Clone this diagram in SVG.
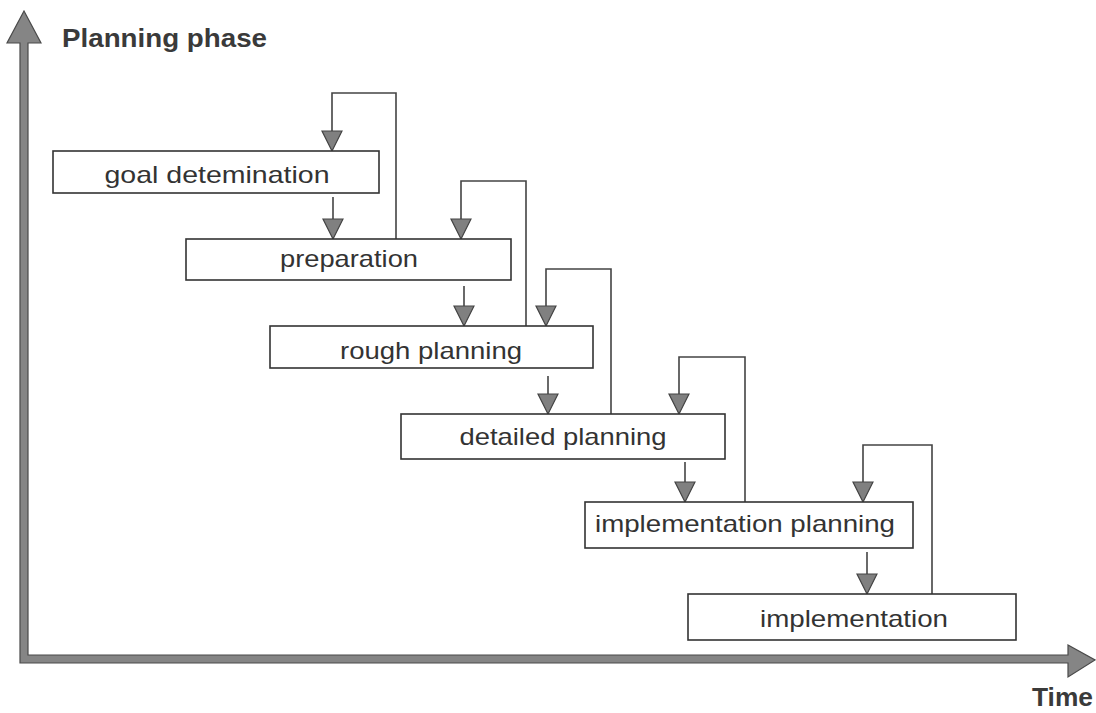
<svg xmlns="http://www.w3.org/2000/svg" width="1096" height="713" viewBox="0 0 1096 713">
<style>
.box{fill:#fff;stroke:#333;stroke-width:1.6}
.lbl{font-family:"Liberation Sans",Arial,sans-serif;font-size:24px;fill:#333;text-anchor:middle}
.ax{font-family:"Liberation Sans",Arial,sans-serif;font-size:25px;font-weight:bold;fill:#3a3a3a}
.axis{fill:#858585;stroke:#4a4a4a;stroke-width:1.2}
.con{fill:none;stroke:#444;stroke-width:1.6}
</style>
<defs>
<marker id="ah" markerUnits="userSpaceOnUse" markerWidth="22" markerHeight="22" viewBox="0 0 22 22" refX="21" refY="11" orient="auto">
<path d="M1,1 L21,11 L1,21 z" fill="#808080" stroke="#444" stroke-width="1.2"/>
</marker>
</defs>
<rect width="1096" height="713" fill="#fff"/>
<g id="axes">
<path class="axis" d="M20,663 V43 H7 L24,11 L41,43 H28 V655 H1068 V645 L1095,660 L1068,677 V663 Z"/>
<text class="ax" x="62" y="47" textLength="205" lengthAdjust="spacingAndGlyphs">Planning phase</text>
<text class="ax" x="1032" y="706" textLength="61" lengthAdjust="spacingAndGlyphs">Time</text>
</g>
<g id="connectors">
<path class="con" d="M333,197 V239" marker-end="url(#ah)"/>
<path class="con" d="M464,286 V326" marker-end="url(#ah)"/>
<path class="con" d="M548,376 V414" marker-end="url(#ah)"/>
<path class="con" d="M685,462 V502" marker-end="url(#ah)"/>
<path class="con" d="M867,552 V594" marker-end="url(#ah)"/>
<path class="con" d="M396,239 V93 H332 V151" marker-end="url(#ah)"/>
<path class="con" d="M526,326 V181 H461 V239" marker-end="url(#ah)"/>
<path class="con" d="M611,414 V269 H546 V326" marker-end="url(#ah)"/>
<path class="con" d="M745,502 V357 H679 V414" marker-end="url(#ah)"/>
<path class="con" d="M932,594 V445 H863 V502" marker-end="url(#ah)"/>
</g>
<g id="goal">
<rect class="box" x="53" y="151" width="326" height="42"/>
<text class="lbl" x="217" y="183" textLength="225" lengthAdjust="spacingAndGlyphs">goal detemination</text>
</g>
<g id="preparation">
<rect class="box" x="186" y="239" width="325" height="41"/>
<text class="lbl" x="349" y="267" textLength="138" lengthAdjust="spacingAndGlyphs">preparation</text>
</g>
<g id="rough">
<rect class="box" x="270" y="326" width="323" height="42"/>
<text class="lbl" x="431" y="359" textLength="182" lengthAdjust="spacingAndGlyphs">rough planning</text>
</g>
<g id="detailed">
<rect class="box" x="401" y="414" width="324" height="45"/>
<text class="lbl" x="563" y="445" textLength="207" lengthAdjust="spacingAndGlyphs">detailed planning</text>
</g>
<g id="implplanning">
<rect class="box" x="585" y="502" width="328" height="46"/>
<text class="lbl" x="745" y="532" textLength="300" lengthAdjust="spacingAndGlyphs">implementation planning</text>
</g>
<g id="implementation">
<rect class="box" x="688" y="594" width="328" height="46"/>
<text class="lbl" x="854" y="627" textLength="188" lengthAdjust="spacingAndGlyphs">implementation</text>
</g>
</svg>
